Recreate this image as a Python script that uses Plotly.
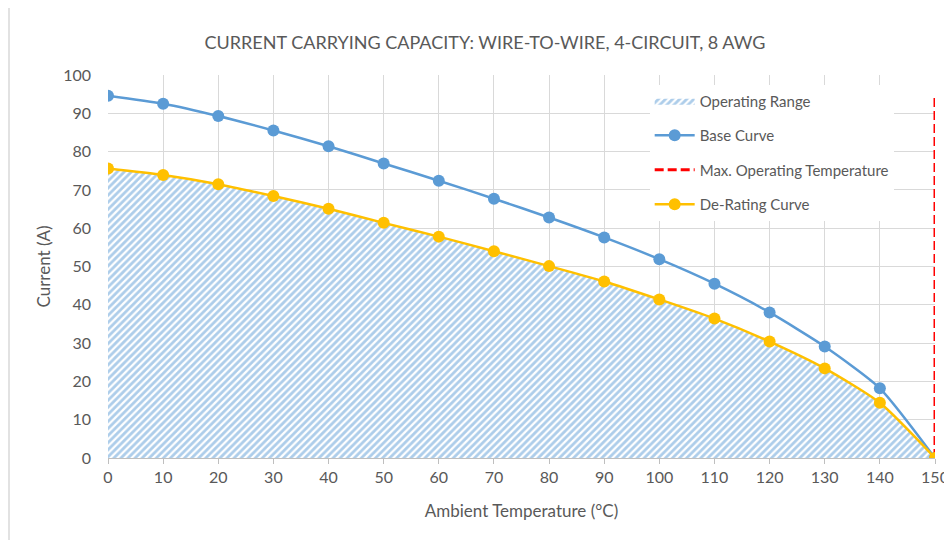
import plotly.graph_objects as go

temps = [0, 10, 20, 30, 40, 50, 60, 70, 80, 90, 100, 110, 120, 130, 140, 150]
base_curve = [94.6, 92.5, 89.3, 85.5, 81.4, 76.9, 72.4, 67.7, 62.8, 57.6, 51.9, 45.5, 38.0, 29.1, 18.2, 0.0]
derating_curve = [75.6, 73.9, 71.5, 68.4, 65.1, 61.4, 57.8, 54.0, 50.1, 46.1, 41.4, 36.4, 30.4, 23.4, 14.4, 0.0]
max_temp_x = [150, 150]
max_temp_y = [0, 95]

title_text = "CURRENT CARRYING CAPACITY: WIRE-TO-WIRE, 4-CIRCUIT, 8 AWG"
x_title = "Ambient Temperature (°C)"
y_title = "Current (A)"

FONT = "Lato"
GRAY = "#595959"
BLUE = "#5b9bd5"
GOLD = "#ffc000"

fig = go.Figure()

fig.add_trace(go.Scatter(
    x=temps, y=derating_curve, name="Operating Range", mode="lines",
    line=dict(width=0, shape="spline", smoothing=0.6),
    fill="tozeroy", fillcolor="rgba(0,0,0,0)",
    fillpattern=dict(shape="/", fgcolor=BLUE, bgcolor="white", size=5, solidity=0.55),
    legendgroup="g1", hoverinfo="skip",
))
fig.add_trace(go.Scatter(
    x=temps, y=base_curve, name="Base Curve", mode="lines+markers",
    line=dict(color=BLUE, width=2.5, shape="spline", smoothing=0.6),
    marker=dict(color=BLUE, size=12),
    legendgroup="g2",
))
fig.add_trace(go.Scatter(
    x=max_temp_x, y=max_temp_y, name="Max. Operating Temperature", mode="lines",
    line=dict(color="#ff0000", width=3, dash="9px,4px"),
    legendgroup="g3",
))
fig.add_trace(go.Scatter(
    x=temps, y=derating_curve, name="De-Rating Curve", mode="lines+markers",
    line=dict(color=GOLD, width=2.5, shape="spline", smoothing=0.6),
    marker=dict(color=GOLD, size=12),
    legendgroup="g4",
))

fig.update_layout(
    width=952, height=540,
    paper_bgcolor="white", plot_bgcolor="white",
    margin=dict(l=100, r=25, t=67, b=90),
    font=dict(family=FONT, color=GRAY, size=15),
    title=dict(text=title_text, x=0.501, xanchor="center", y=0.935, yanchor="middle",
               font=dict(family=FONT, size=18, color=GRAY)),
    showlegend=True,
    legend=dict(x=0.655, y=0.975, xanchor="left", yanchor="top",
                bgcolor="white", borderwidth=0,
                font=dict(family=FONT, size=15, color=GRAY),
                traceorder="grouped", tracegroupgap=12, itemwidth=40),
    xaxis=dict(range=[0, 150], tickmode="array", tickvals=temps,
               showgrid=True, gridcolor="#d9d9d9", gridwidth=1,
               showline=True, linecolor="#bfbfbf", linewidth=1,
               ticks="outside", ticklen=5, tickcolor="#bfbfbf",
               zeroline=False, tickfont=dict(size=16, color=GRAY),
               title=dict(text=x_title, font=dict(size=17, color=GRAY), standoff=19)),
    yaxis=dict(range=[0, 100], dtick=10,
               showgrid=True, gridcolor="#d9d9d9", gridwidth=1,
               showline=False, zeroline=False,
               tickfont=dict(size=16, color=GRAY), ticklabelstandoff=16,
               title=dict(text=y_title, font=dict(size=17, color=GRAY), standoff=8)),
    shapes=[dict(type="line", xref="paper", yref="paper",
                 x0=(1 - 100) / 827, x1=(1 - 100) / 827, y0=-0.3, y1=1.3,
                 line=dict(color="#d9d9d9", width=1.5))],
)

fig.write_html("out.html")
